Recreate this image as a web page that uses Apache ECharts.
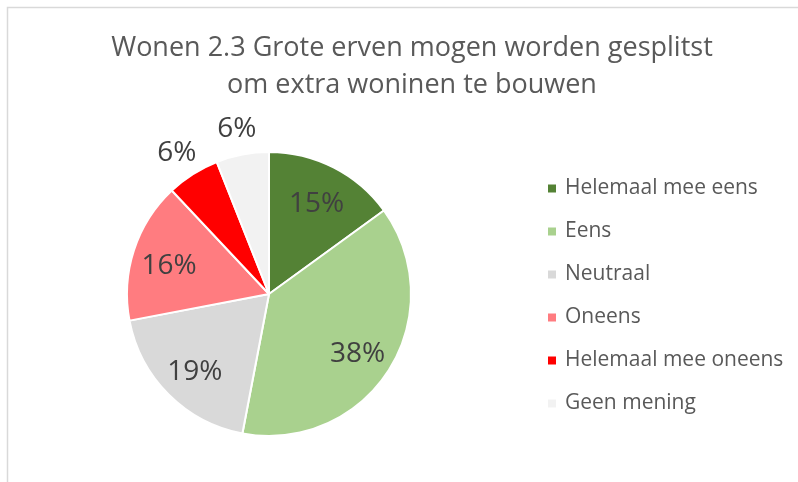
<!DOCTYPE html>
<html lang="nl">
<head>
<meta charset="utf-8">
<title>Wonen 2.3</title>
<script src="https://cdn.jsdelivr.net/npm/echarts@6/dist/echarts.min.js"></script>
<style>
  html, body { margin: 0; padding: 0; background: #fff; }
  #main { width: 798px; height: 482px; }
</style>
</head>
<body>
<div id="main"></div>
<script type="text/javascript">
  // categorieen en percentages
  const categories = ['Helemaal mee eens', 'Eens', 'Neutraal', 'Oneens', 'Helemaal mee oneens', 'Geen mening'];
  const values = [15, 38, 19, 16, 6, 6];
  const outsideLabels = ['Helemaal mee oneens', 'Geen mening']; // kleine stukken: label buiten de taart

  const colors = ['#548235', '#A9D18E', '#D9D9D9', '#FF7C80', '#FF0000', '#F2F2F2'];
  const center = [269, 294];
  const labelFont = { fontFamily: 'Open Sans', fontSize: 28, color: '#404040' };

  let chart = echarts.init(document.getElementById('main'));

  let pieData = categories.map((name, i) => ({
    name: name,
    value: values[i],
    itemStyle: { color: colors[i] }
  }));

  // onzichtbare taart alleen voor de labels op een bepaalde straal
  function labelData(showInside) {
    return categories.map((name, i) => ({
      name: name,
      value: values[i],
      label: { show: (outsideLabels.indexOf(name) < 0) === showInside }
    }));
  }

  let option = {
    animation: false,
    title: {
      text: 'Wonen 2.3 Grote erven mogen worden gesplitst\nom extra woninen te bouwen',
      left: 407,
      top: 25,
      textAlign: 'center',
      textStyle: { fontFamily: 'Open Sans', fontSize: 27, fontWeight: 'normal', color: '#595959', lineHeight: 37 }
    },
    legend: {
      orient: 'vertical',
      left: 541,
      top: 172,
      itemWidth: 10,
      itemHeight: 10,
      itemGap: 20,
      icon: 'rect',
      selectedMode: false,
      textStyle: { fontFamily: 'Open Sans', fontSize: 21, color: '#595959', lineHeight: 23, padding: [0, 0, 0, 3] },
      data: categories.map((name, i) => ({ name: name, itemStyle: { color: colors[i] } }))
    },
    graphic: [{
      type: 'rect',
      shape: { x: 7.5, y: 7.5, width: 900, height: 600 },
      style: { fill: 'none', stroke: '#D9D9D9', lineWidth: 1.5 },
      silent: true
    }],
    series: [
      {
        name: 'main',
        type: 'pie',
        center: center,
        radius: 142,
        startAngle: 90,
        clockwise: true,
        silent: true,
        label: { show: false },
        labelLine: { show: false },
        itemStyle: { borderColor: '#ffffff', borderWidth: 2 },
        data: pieData
      },
      {
        name: 'labels-inside',
        type: 'pie',
        center: center,
        radius: 204,
        startAngle: 90,
        silent: true,
        itemStyle: { color: 'rgba(0,0,0,0)' },
        label: Object.assign({ position: 'inside', formatter: '{c}%' }, labelFont),
        labelLine: { show: false },
        labelLayout: { dy: 4 },
        data: labelData(true)
      },
      {
        name: 'labels-outside',
        type: 'pie',
        center: center,
        radius: 338,
        startAngle: 90,
        silent: true,
        itemStyle: { color: 'rgba(0,0,0,0)' },
        label: Object.assign({ position: 'inside', formatter: '{c}%' }, labelFont),
        labelLine: { show: false },
        labelLayout: { dy: 4 },
        data: labelData(false)
      }
    ]
  };

  chart.setOption(option);
</script>
</body>
</html>
